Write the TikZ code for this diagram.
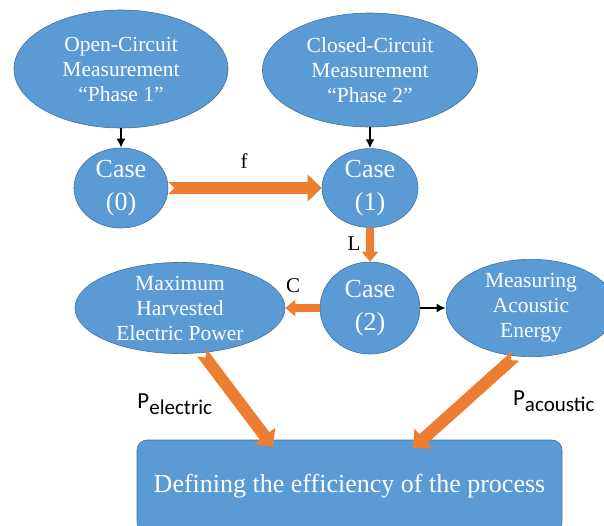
\documentclass[tikz,border=0pt]{standalone}
\usepackage{fontspec}
\setmainfont{Liberation Serif}
\newfontfamily\carl{Carlito}
\newfontfamily\tnr{Liberation Serif}
\usetikzlibrary{arrows.meta,shapes.geometric}
\definecolor{nodeblue}{HTML}{5B9BD5}
\definecolor{nodeedge}{HTML}{41719C}
\definecolor{orng}{HTML}{ED7D31}
\tikzset{
  bubble/.style={ellipse, fill=nodeblue, draw=nodeedge, line width=0.6pt, text=white, align=center, inner sep=0pt},
  midtext/.style={font=\fontsize{21.5}{25}\selectfont},
  bigtext/.style={font=\fontsize{26}{33}\selectfont},
  blk/.style={-{Latex[length=9pt,width=9pt]}, line width=2.2pt, black},
  fat/.style={orng, line width=12pt, {Triangle Cap[reversed]}-{Triangle[length=14pt,width=26pt]}},
  thin/.style={orng, line width=8pt, -{Triangle[length=10pt,width=16pt]}},
  lbl/.style={text=black, inner sep=0pt}
}
\begin{document}
\begin{tikzpicture}[x=1pt,y=-1pt]
\useasboundingbox (0,0) rectangle (604,525);
\node[bubble, midtext, minimum width=214pt, minimum height=118pt] (open) at (121,69) {Open-Circuit\\Measurement\\``Phase 1''};
\node[bubble, midtext, minimum width=215pt, minimum height=114pt] (closed) at (370,70) {Closed-Circuit\\Measurement\\``Phase 2''};
\node[bubble, bigtext, minimum width=94pt, minimum height=80pt] (c0) at (121,188) {Case\\(0)};
\node[bubble, bigtext, minimum width=96pt, minimum height=78pt] (c1) at (370,188) {Case\\(1)};
\node[bubble, bigtext, minimum width=100pt, minimum height=92pt] (c2) at (370,308) {Case\\(2)};
\node[bubble, midtext, minimum width=210pt, minimum height=86pt] (mh) at (180,308) {Maximum\\Harvested\\Electric Power};
\node[bubble, midtext, minimum width=170pt, minimum height=86pt] (ma) at (531,308) {Measuring\\Acoustic\\Energy};
\node[fill=nodeblue, draw=nodeedge, line width=0.6pt, rounded corners=10pt, text=white, bigtext,
      minimum width=425pt, minimum height=92pt, inner sep=0pt] (box) at (349.5,486) {Defining the efficiency of the process};
\coordinate (pe) at (273,447);
\coordinate (pa) at (413,448);

\draw[blk] (open) -- (c0);
\draw[blk] (closed.south) -- (c1.north);
\draw[fat] (c0.east) -- (c1.west);
\draw[thin] (c1.south) -- (c2.north);
\draw[thin] (c2.west) -- (mh.east);
\draw[blk] (c2.east) -- (ma.west);
\draw[fat] (mh.-64) -- (pe);
\draw[fat] (ma.-108) -- (pa);

\node[lbl, font=\tnr\fontsize{21}{24}\selectfont] (f) at (244,161) {f};
\node[lbl, font=\tnr\fontsize{21}{24}\selectfont] (L) at (354,244) {L};
\node[lbl, font=\tnr\fontsize{21}{24}\selectfont] (C) at (293,286) {C};
\node[lbl, font=\carl\fontsize{23}{26}\selectfont] (pel) at (175,404) {P\textsubscript{\fontsize{21}{22}\selectfont electric}};
\node[lbl, font=\carl\fontsize{23}{26}\selectfont] (pac) at (554,401) {P\textsubscript{\fontsize{21}{22}\selectfont acoustic}};
\end{tikzpicture}
\end{document}
